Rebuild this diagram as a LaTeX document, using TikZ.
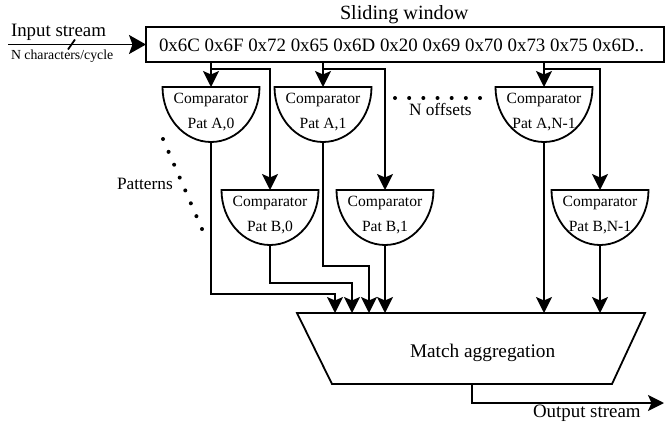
\documentclass[tikz,border=0pt]{standalone}
\usepackage{fontspec}
\setmainfont{Liberation Serif}
\usetikzlibrary{arrows.meta,calc}
\begin{document}
\begin{tikzpicture}[x=1pt,y=-1pt,line width=1.8pt,
  arr/.style={-{Stealth[length=16pt,width=16pt,inset=3.5pt]}},
  hole/.style={minimum width=97pt,minimum height=55pt,inner sep=0pt,outer sep=0pt},
  txt/.style={inner sep=0pt,outer sep=0pt},
  bigf/.style={font=\fontsize{18.9}{22}\selectfont},
  titlef/.style={font=\fontsize{20.2}{23}\selectfont},
  midf/.style={font=\fontsize{17.3}{20}\selectfont},
  cmpf/.style={font=\fontsize{15.6}{18}\selectfont},
  smallf/.style={font=\fontsize{13.8}{16}\selectfont}]
\useasboundingbox (0,0) rectangle (665,423);

% sliding window
\node[draw,minimum width=518pt,minimum height=35pt,inner sep=0pt,outer sep=0pt,anchor=north west] (win) at (146,27) {};
\node[txt,bigf,anchor=base west] (hex) at (159,51.7) {0x6C 0x6F 0x72 0x65 0x6D 0x20 0x69 0x70 0x73 0x75 0x6D..};
\node[txt,titlef,anchor=base west] (title) at (340,19.3) {Sliding window};

% input
\coordinate (instart) at (8,44.5);
\draw[-{Stealth[length=17pt,width=19pt,inset=3.5pt]}] (instart) -- (win.west);
\draw (68,49.5) -- (75,39.5);
\node[txt,bigf,anchor=base west] (intxt) at (11,36.7) {Input stream};
\node[txt,smallf,anchor=base west] (inrate) at (11,59.3) {N characters/cycle};

% comparators
\foreach \n/\x/\y/\lab in {a0/211/87/{Pat A,0},a1/323/87/{Pat A,1},aN/544/87/{Pat A,N-1},b0/270/190/{Pat B,0},b1/385/190/{Pat B,1},bN/600/190/{Pat B,N-1}}{
  \node[hole,anchor=north] (\n) at (\x,\y) {};
  \draw (\n.north west) -- (\n.north east) arc[start angle=0,end angle=-180,x radius=48.5pt,y radius=55pt] -- cycle;
  \node[txt,cmpf,anchor=base] (\n t1) at ($(\n.north)+(0,16.5)$) {Comparator};
  \node[txt,cmpf,anchor=base] (\n t2) at ($(\n.north)+(0,41.5)$) {\lab};
}

% window to comparators
\foreach \a/\b in {a0/b0,a1/b1,aN/bN}{
  \draw[arr] (win.south -| \a.north) -- (\a.north);
  \draw[arr] ($(win.south -| \a.north)+(0,7)$) -| (\b.north);
}

% aggregator
\node[minimum width=348pt,minimum height=71pt,inner sep=0pt,outer sep=0pt,anchor=north west] (agg) at (297,313) {};
\draw (agg.north west) -- (agg.north east) -- ($(agg.south east)+(-33,0)$) -- ($(agg.south west)+(35,0)$) -- cycle;
\node[txt,font=\fontsize{19.3}{22}\selectfont,anchor=base west] (aggtxt) at (410,357.3) {Match aggregation};

% comparators to aggregator
\draw[arr] (a0.south) -- ++(0,152) -| ($(agg.north west)+(38,0)$);
\draw[arr] (b0.south) -- ++(0,38) -| ($(agg.north west)+(55,0)$);
\draw[arr] (a1.south) -- ++(0,124) -| ($(agg.north west)+(72,0)$);
\draw[arr] (b1.south) -- (b1.south |- agg.north);
\draw[arr] (aN.south) -- (aN.south |- agg.north);
\draw[arr] (bN.south) -- (bN.south |- agg.north);

% output
\coordinate (outend) at (664,403);
\draw[arr] ($(agg.south west)+(175,0)$) |- (outend);
\node[txt,bigf,anchor=base west] (outtxt) at (533,417.3) {Output stream};

% dotted hints
\foreach \i in {0,...,6}{\fill (395+14.17*\i,98) circle[radius=2pt];}
\node[txt,midf,anchor=base west] (offs) at (409,115) {N offsets};
\foreach \i in {0,...,7}{\fill ($(163,139)+\i*(5.57,12.86)$) circle[radius=2pt];}
\node[txt,midf,anchor=base west] (pats) at (117,189.3) {Patterns};
\end{tikzpicture}
\end{document}
